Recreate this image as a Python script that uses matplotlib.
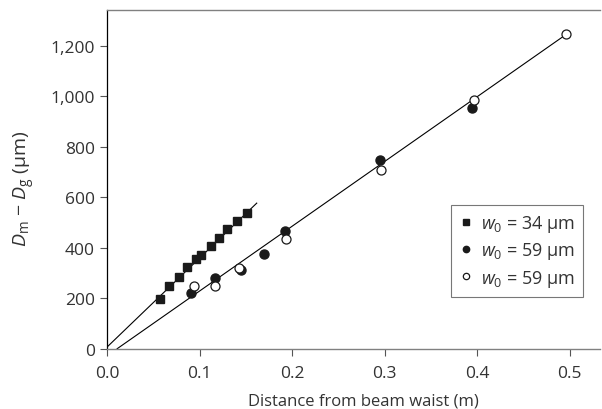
import matplotlib
matplotlib.use("Agg")
import matplotlib.pyplot as plt
import numpy as np
from matplotlib.ticker import FuncFormatter

plt.rcParams['font.family'] = ['Open Sans', 'DejaVu Sans']
plt.rcParams['mathtext.fontset'] = 'custom'
plt.rcParams['mathtext.rm'] = 'Open Sans'
plt.rcParams['mathtext.it'] = 'Open Sans:italic'

# w0 = 34 um (squares)
sq_x = [0.0567, 0.0664, 0.0772, 0.0866, 0.0960, 0.1017, 0.1120, 0.1210, 0.1300, 0.1407, 0.1509]
sq_y = [198, 248, 284, 324, 355, 371, 407, 439, 474, 505, 537]
# w0 = 59 um (filled circles)
fc_x = [0.0909, 0.1169, 0.1447, 0.1692, 0.1920, 0.2951, 0.3947]
fc_y = [221, 280, 313, 374, 467, 748, 954]
# w0 = 59 um (open circles)
oc_x = [0.0935, 0.1169, 0.1429, 0.1937, 0.2959, 0.3965, 0.4964]
oc_y = [248, 247, 320, 434, 707, 984, 1246]
# fitted lines (endpoints)
fit1_x = [0.0, 0.1617]
fit1_y = [7, 577]
fit2_x = [0.0108, 0.4964]
fit2_y = [0, 1246]

xticks = [0.0, 0.1, 0.2, 0.3, 0.4, 0.5]
yticks = [0, 200, 400, 600, 800, 1000, 1200]

fig = plt.figure(figsize=(6.02, 4.10), dpi=100)
ax = fig.add_axes([0.178, 0.147, 0.819, 0.826])

ax.plot(fit1_x, fit1_y, color='black', lw=0.8, zorder=2)
ax.plot(fit2_x, fit2_y, color='black', lw=0.8, zorder=2)

ax.plot(sq_x, sq_y, ls='none', marker='s', ms=6, color='#1a1a1a', mec='#1a1a1a',
        label='$w_0$ = 34 μm', zorder=3)
ax.plot(fc_x, fc_y, ls='none', marker='o', ms=6.5, color='#1a1a1a', mec='#1a1a1a',
        label='$w_0$ = 59 μm', zorder=3)
ax.plot(oc_x, oc_y, ls='none', marker='o', ms=6.5, mfc='white', mec='#1a1a1a', mew=0.9,
        label='$w_0$ = 59 μm', zorder=4)

ax.set_xlim(0, 0.533)
ax.set_ylim(0, 1342)
ax.set_xticks(xticks)
ax.set_yticks(yticks)
ax.xaxis.set_major_formatter(FuncFormatter(lambda v, p: f"{v:.1f}"))
ax.yaxis.set_major_formatter(FuncFormatter(lambda v, p: f"{int(v):,}"))

ax.tick_params(axis='both', direction='out', length=5, width=0.8, color='#555555',
               labelsize=12.5, labelcolor='#333333', pad=4)
ax.tick_params(axis='x', pad=7)

for s in ['top', 'bottom']:
    ax.spines[s].set_color('#808080')
    ax.spines[s].set_linewidth(1.0)
ax.spines['left'].set_color('black')
ax.spines['left'].set_linewidth(0.9)
ax.spines['right'].set_visible(False)

ax.set_xlabel('Distance from beam waist (m)', fontsize=12, color='#333333')
ax.xaxis.set_label_coords(0.52, -0.128)
ax.set_ylabel('$D_{\\mathrm{m}}$ − $D_{\\mathrm{g}}$ (μm)', fontsize=14, color='#333333')
ax.yaxis.set_label_coords(-0.143, 0.475)

leg = ax.legend(loc='lower right', bbox_to_anchor=(0.965, 0.153), fontsize=13,
                frameon=True, fancybox=False, edgecolor='#555555', markerscale=0.7,
                handlelength=0.8, handletextpad=0.4, borderpad=0.45, labelspacing=0.35,
                borderaxespad=0)
leg.get_frame().set_linewidth(0.8)
for t in leg.get_texts():
    t.set_color('#333333')

fig.savefig('out.png', dpi=100)
